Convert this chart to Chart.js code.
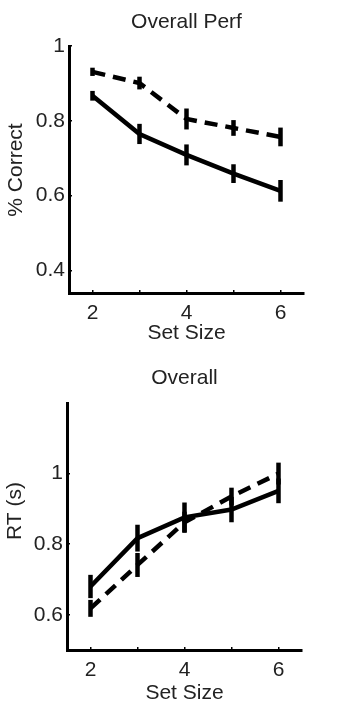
<!DOCTYPE html>
<html>
<head>
<meta charset="utf-8">
<script src="https://cdn.jsdelivr.net/npm/chart.js@4.4.0/dist/chart.umd.min.js"></script>
<style>
  body { margin: 0; background: #fff; }
  canvas { position: absolute; left: 0; }
</style>
</head>
<body>
<canvas id="perfChart" width="350" height="358" style="top:0px"></canvas>
<canvas id="rtChart" width="350" height="358" style="top:358px"></canvas>
<script>
// set sizes on the x axis, only even ones get a label
const setSizes = [2, 3, 4, 5, 6];
const xLabeled = [2, 4, 6];

// top panel: accuracy
const perfSolid = [0.867, 0.765, 0.709, 0.659, 0.613];
const perfSolidErr = [0.013, 0.027, 0.028, 0.025, 0.029];
const perfDashed = [0.931, 0.901, 0.805, 0.781, 0.757];
const perfDashedErr = [0.011, 0.017, 0.028, 0.021, 0.025];
const perfTicks = [0.4, 0.6, 0.8, 1];

// bottom panel: reaction time
const rtSolid = [0.680, 0.817, 0.876, 0.898, 0.951];
const rtSolidErr = [0.033, 0.038, 0.042, 0.036, 0.035];
const rtDashed = [0.618, 0.741, 0.862, 0.935, 1.0];
const rtDashedErr = [0.024, 0.034, 0.030, 0.025, 0.031];
const rtTicks = [0.6, 0.8, 1];

Chart.defaults.font.family = '"Liberation Sans", Arial, Helvetica, sans-serif';
Chart.defaults.color = '#222';

const FONT = 21;

// vertical error bars, no caps
const errorBars = {
  id: 'errorBars',
  afterDatasetsDraw(chart) {
    const ctx = chart.ctx;
    const x = chart.scales.x, y = chart.scales.y;
    chart.data.datasets.forEach(ds => {
      if (!ds.errors) return;
      ctx.save();
      ctx.strokeStyle = '#000';
      ctx.lineWidth = 4.5;
      ctx.setLineDash([]);
      ds.data.forEach((pt, j) => {
        const px = x.getPixelForValue(pt.x);
        ctx.beginPath();
        ctx.moveTo(px, y.getPixelForValue(pt.y - ds.errors[j]));
        ctx.lineTo(px, y.getPixelForValue(pt.y + ds.errors[j]));
        ctx.stroke();
      });
      ctx.restore();
    });
  }
};

// rotated y label, placed by hand like matlab does
const sideLabel = {
  id: 'sideLabel',
  afterDraw(chart, args, opts) {
    const ctx = chart.ctx;
    ctx.save();
    ctx.translate(opts.x, opts.y);
    ctx.rotate(-Math.PI / 2);
    ctx.font = FONT + 'px "Liberation Sans", Arial, sans-serif';
    ctx.fillStyle = '#222';
    ctx.textAlign = 'center';
    ctx.textBaseline = 'middle';
    ctx.fillText(opts.text, 0, 0);
    ctx.restore();
  }
};

function points(values) {
  return setSizes.map((s, i) => ({ x: s, y: values[i] }));
}

function makeChart(id, title, yTitle, yMin, yMax, yTicks, solid, solidErr, dashed, dashedErr, g) {
  const canvas = document.getElementById(id);
  return new Chart(canvas, {
    type: 'line',
    data: {
      datasets: [
        {
          data: points(solid),
          errors: solidErr,
          borderColor: '#000',
          borderWidth: 4.5,
          pointRadius: 0,
          tension: 0
        },
        {
          data: points(dashed),
          errors: dashedErr,
          borderColor: '#000',
          borderWidth: 4.5,
          borderDash: [13, 8],
          pointRadius: 0,
          tension: 0
        }
      ]
    },
    options: {
      responsive: false,
      animation: false,
      events: [],
      layout: { padding: { left: 0, right: canvas.width - g.right, top: 0, bottom: 0 } },
      plugins: {
        legend: { display: false },
        tooltip: { enabled: false },
        title: {
          display: true,
          fullSize: false,
          text: title,
          font: { size: FONT, weight: 'normal' },
          color: '#222',
          padding: { top: g.titleY - FONT * 0.6, bottom: g.top - g.titleY - FONT * 0.6 }
        },
        sideLabel: { text: yTitle, x: g.yLabelX, y: g.yLabelY }
      },
      scales: {
        x: {
          type: 'linear',
          min: 1.5,
          max: 6.5,
          afterBuildTicks: scale => { scale.ticks = setSizes.map(v => ({ value: v })); },
          afterFit: scale => { scale.height = canvas.height - g.bottom; },
          ticks: {
            font: { size: FONT },
            color: '#222',
            padding: g.xTickPad,
            maxRotation: 0,
            callback: v => xLabeled.includes(v) ? String(v) : ''
          },
          grid: { drawOnChartArea: false, drawTicks: true, tickLength: -3, color: '#000', lineWidth: 1.5 },
          border: { display: true, color: '#000', width: 3 },
          title: {
            display: true,
            text: 'Set Size',
            font: { size: FONT },
            color: '#222',
            padding: { top: 0, bottom: g.xTitlePad }
          }
        },
        y: {
          type: 'linear',
          min: yMin,
          max: yMax,
          afterBuildTicks: scale => { scale.ticks = yTicks.map(v => ({ value: v })); },
          afterFit: scale => { scale.width = g.left; },
          ticks: {
            font: { size: FONT },
            color: '#222',
            padding: 7,
            callback: v => String(Number(v.toFixed(1)))
          },
          grid: { drawOnChartArea: false, drawTicks: true, tickLength: -3, color: '#000', lineWidth: 1.5 },
          border: { display: true, color: '#000', width: 3 }
        }
      }
    },
    plugins: [errorBars, sideLabel]
  });
}

makeChart('perfChart', 'Overall Perf', '% Correct', 0.34, 1.0, perfTicks,
  perfSolid, perfSolidErr, perfDashed, perfDashedErr,
  { left: 69, right: 304, top: 46, bottom: 293, titleY: 22, yLabelX: 16, yLabelY: 170, xTickPad: 11, xTitlePad: 12 });

makeChart('rtChart', 'Overall', 'RT (s)', 0.5, 1.2, rtTicks,
  rtSolid, rtSolidErr, rtDashed, rtDashedErr,
  { left: 67, right: 302, top: 45, bottom: 292, titleY: 20, yLabelX: 15, yLabelY: 153, xTickPad: 11, xTitlePad: 10 });
</script>
</body>
</html>
